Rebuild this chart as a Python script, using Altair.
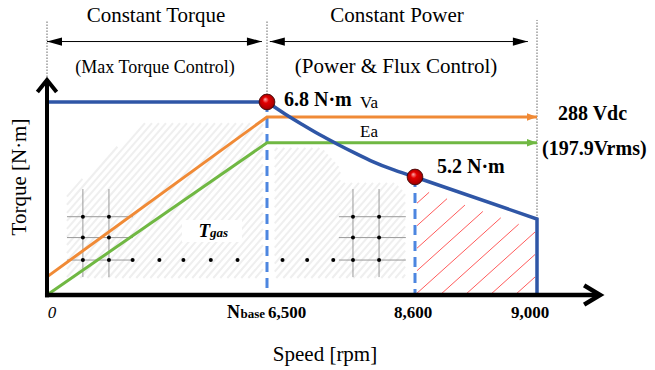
import altair as alt
import numpy as np
import pandas as pd

# ---------------- values ----------------
speed_ticks = [0, 6500, 8600, 9000]
torque_marks = [0, 5.2, 6.8]

flat_speed = [0, 6500]
flat_torque = [6.8, 6.8]
curve_speed = [6500, 6750, 7000, 7250, 7500, 7750, 8000, 8300, 8600]
curve_torque = [6.8, 6.55, 6.32, 6.10, 5.90, 5.71, 5.53, 5.35, 5.2]
tail_speed = [8600, 9000, 9000]
tail_torque = [5.2, 3.35, 0]

va_speed = [0, 6500, 9000]
va_level = [0.8, 6.48, 6.48]
ea_speed = [0, 6500, 9000]
ea_level = [0.0, 5.93, 5.93]

point_speed = [6500, 8600]
point_torque = [6.8, 5.2]
point_label = ["6.8 N·m", "5.2 N·m"]

grid_speed = [1060, 1830, 7720, 8090]
grid_torque = [3.45, 2.53, 1.54]
grid_span_torque = [0.79, 4.67]
grid_h_from = [590, 7520]
grid_h_to = [2540, 8470]
row_speed = [2530, 3320, 4030, 4840, 5630, 6720, 7070, 7440]

gray_left_speed = [590, 590, 2840, 6380, 6380]
gray_left_torque = [0.75, 4.49, 6.35, 6.35, 0.75]
gray_mid_speed = [6610, 6610, 7280, 7540, 7540]
gray_mid_torque = [0.75, 5.82, 5.82, 5.39, 0.75]
gray_right_speed = [7540, 7540, 8320, 8460, 8460]
gray_right_torque = [0.75, 4.94, 4.94, 4.49, 0.75]
red_speed = [8600, 8600, 9000, 9000]
red_torque = [0, 5.2, 3.35, 0]

tgas_box_speed = [3990, 5760]
tgas_box_torque = [2.34, 3.31]

guide_speed = [0, 6500, 9000]
guide_top = [8.55, 8.55, 8.55]
guide_bottom = [7.27, 6.95, 3.35]

region_start = [0, 6540]
region_end = [6350, 8970]
region_level = 8.09

axis_x_end = 9207
axis_y_end = 7.27

SERIF = "Liberation Serif"

# ---------------- scales (piecewise, schematic) ----------------
x_px = [47, 267, 415, 537]
y_px = [295, 177, 102]
xs = alt.Scale(domain=speed_ticks, range=x_px, nice=False, zero=False)
ys = alt.Scale(domain=torque_marks, range=y_px, nice=False, zero=False)


def X(f):
    return alt.X(f, type="quantitative", scale=xs, axis=None)


def Y(f):
    return alt.Y(f, type="quantitative", scale=ys, axis=None)


def to_px(s, t):
    return np.interp(s, speed_ticks, x_px), np.interp(t, torque_marks, y_px)


def to_data(px, py):
    return (np.interp(px, x_px, speed_ticks),
            np.interp(py, y_px[::-1], torque_marks[::-1]))


def hatch(P, slope, gap, phase_pt=(0.0, 0.0)):
    P = np.asarray(P, float)
    cen = P.mean(axis=0)
    cv = P[:, 1] + slope * P[:, 0]
    step = slope * gap
    phase = phase_pt[1] + slope * phase_pt[0]
    c = phase + np.floor((cv.min() - phase) / step) * step
    segs = []
    n = len(P)
    while c <= cv.max():
        lo, hi, ok = -np.inf, np.inf, True
        for i in range(n):
            a, b = P[i], P[(i + 1) % n]
            ex, ey = b - a
            s = np.sign(ex * (cen[1] - a[1]) - ey * (cen[0] - a[0]))
            A = -ex * slope - ey
            B = ex * (c - a[1]) + ey * a[0]
            sA, sB = s * A, s * B
            if abs(sA) < 1e-9:
                if sB < 0:
                    ok = False
                    break
            elif sA > 0:
                lo = max(lo, -sB / sA)
            else:
                hi = min(hi, -sB / sA)
        if ok and hi - lo > 0.8:
            segs.append((lo, c - slope * lo, hi, c - slope * hi))
        c += step
    seg = np.array(segs)
    s1, t1 = to_data(seg[:, 0], seg[:, 1])
    s2, t2 = to_data(seg[:, 2], seg[:, 3])
    return pd.DataFrame({"s1": s1, "t1": t1, "s2": s2, "t2": t2})


def poly_px(sp, tq):
    px, py = to_px(np.array(sp), np.array(tq))
    return np.column_stack([px, py])


gray_df = pd.concat([
    hatch(poly_px(gray_left_speed, gray_left_torque), 1.15, 7),
    hatch(poly_px(gray_mid_speed, gray_mid_torque), 1.15, 7),
    hatch(poly_px(gray_right_speed, gray_right_torque), 1.15, 7),
])
rp = poly_px(red_speed, red_torque)
rp[1, 1] += 11
rp[2, 1] += 11
rp[[0, 1], 0] += 2
rp[[2, 3], 0] -= 2
red_df = hatch(rp, 0.9, 25, phase_pt=(rp[0, 0] - 2, rp[0, 1]))

layers = []
layers.append(alt.Chart(gray_df).mark_rule(color="#efefef", strokeWidth=2).encode(
    x=X("s1"), y=Y("t1"), x2=alt.X2("s2"), y2=alt.Y2("t2")))
layers.append(alt.Chart(red_df).mark_rule(color="#ff5b5b", strokeWidth=1).encode(
    x=X("s1"), y=Y("t1"), x2=alt.X2("s2"), y2=alt.Y2("t2")))

# operating-point grids
gv = pd.DataFrame({"s": grid_speed, "t1": grid_span_torque[0], "t2": grid_span_torque[1]})
layers.append(alt.Chart(gv).mark_rule(color="#9a9a9a", strokeWidth=1).encode(
    x=X("s"), y=Y("t1"), y2=alt.Y2("t2")))
gh = pd.DataFrame([(a, b, t) for a, b in zip(grid_h_from, grid_h_to) for t in grid_torque],
                  columns=["s1", "s2", "t"])
layers.append(alt.Chart(gh).mark_rule(color="#9a9a9a", strokeWidth=1).encode(
    x=X("s1"), x2=alt.X2("s2"), y=Y("t")))
dots = pd.DataFrame([(s, t) for s in grid_speed for t in grid_torque] +
                    [(s, grid_torque[-1]) for s in row_speed], columns=["s", "t"])
layers.append(alt.Chart(dots).mark_circle(color="black", size=16, opacity=1).encode(
    x=X("s"), y=Y("t")))

# Tgas label box
tb = pd.DataFrame({"s1": [tgas_box_speed[0]], "s2": [tgas_box_speed[1]],
                   "t1": [tgas_box_torque[0]], "t2": [tgas_box_torque[1]],
                   "sc": [sum(tgas_box_speed) / 2], "tc": [sum(tgas_box_torque) / 2]})
layers.append(alt.Chart(tb).mark_rect(color="white").encode(
    x=X("s1"), x2=alt.X2("s2"), y=Y("t1"), y2=alt.Y2("t2")))
layers.append(alt.Chart(tb).mark_text(text="T", font=SERIF, fontSize=19, fontWeight="bold",
                                      fontStyle="italic", align="right", baseline="alphabetic",
                                      dx=-2, dy=6, color="black").encode(x=X("sc"), y=Y("tc")))
layers.append(alt.Chart(tb).mark_text(text="gas", font=SERIF, fontSize=13, fontWeight="bold",
                                      fontStyle="italic", align="left", baseline="alphabetic",
                                      dx=-2, dy=6, color="black").encode(x=X("sc"), y=Y("tc")))

# dotted guides
gd = pd.DataFrame({"s": guide_speed, "t1": guide_bottom, "t2": guide_top})
layers.append(alt.Chart(gd).mark_rule(color="#666666", strokeWidth=1, strokeDash=[1.5, 1.5]).encode(
    x=X("s"), y=Y("t1"), y2=alt.Y2("t2")))

# region arrows
ra = pd.DataFrame({"s1": region_start, "s2": region_end, "t": region_level})
layers.append(alt.Chart(ra).mark_rule(color="black", strokeWidth=1).encode(
    x=X("s1"), x2=alt.X2("s2"), y=Y("t")))
layers.append(alt.Chart(ra).mark_point(shape="M 0 0 L 2 -0.55 L 2 0.55 Z", size=225, filled=True,
                                       color="black", opacity=1).encode(x=X("s1"), y=Y("t")))
layers.append(alt.Chart(ra).mark_point(shape="M 0 0 L -2 -0.55 L -2 0.55 Z", size=225, filled=True,
                                       color="black", opacity=1).encode(x=X("s2"), y=Y("t")))

# dashed base-speed lines
dl = pd.DataFrame({"s": point_speed, "t": point_torque, "z": 0})
layers.append(alt.Chart(dl).mark_rule(color="#4d86e0", strokeWidth=3, strokeDash=[10, 6]).encode(
    x=X("s"), y=Y("t"), y2=alt.Y2("z")))

# voltage lines
for sp, lv, col in [(va_speed, va_level, "#f08a36"), (ea_speed, ea_level, "#70b843")]:
    d = pd.DataFrame({"s": sp, "t": lv, "i": range(len(sp))})
    layers.append(alt.Chart(d).mark_line(color=col, strokeWidth=3).encode(
        x=X("s"), y=Y("t"), order="i:Q"))
    layers.append(alt.Chart(d.tail(1)).mark_point(shape="M 0 0 L -2 -0.75 L -2 0.75 Z", size=100,
                                                  filled=True, color=col, opacity=1).encode(
        x=X("s"), y=Y("t")))

# torque envelope
BLUE = "#2f56a6"
lin = pd.DataFrame({"s": flat_speed + tail_speed, "t": flat_torque + tail_torque,
                    "g": ["a"] * len(flat_speed) + ["b"] * len(tail_speed),
                    "i": list(range(len(flat_speed) + len(tail_speed)))})
layers.append(alt.Chart(lin).mark_line(color=BLUE, strokeWidth=3.5).encode(
    x=X("s"), y=Y("t"), detail="g:N", order="i:Q"))
cv = pd.DataFrame({"s": curve_speed, "t": curve_torque})
layers.append(alt.Chart(cv).mark_line(color=BLUE, strokeWidth=3.5, interpolate="monotone").encode(
    x=X("s"), y=Y("t")))

# axes with chevron arrow heads
layers.append(alt.Chart(pd.DataFrame({"s1": [-60], "s2": [axis_x_end - 8], "t": [0]})).mark_rule(
    color="black", strokeWidth=4.5).encode(x=X("s1"), x2=alt.X2("s2"), y=Y("t")))
layers.append(alt.Chart(pd.DataFrame({"s": [0], "t1": [-0.1], "t2": [axis_y_end - 0.05]})).mark_rule(
    color="black", strokeWidth=4).encode(x=X("s"), y=Y("t1"), y2=alt.Y2("t2")))
layers.append(alt.Chart(pd.DataFrame({"s": [axis_x_end], "t": [0]})).mark_point(
    shape="M -1 -0.6 L 0 0 L -1 0.6", size=1024, filled=False, color="black", strokeWidth=4.5,
    opacity=1).encode(x=X("s"), y=Y("t")))
layers.append(alt.Chart(pd.DataFrame({"s": [0], "t": [axis_y_end]})).mark_point(
    shape="M -0.8 1 L 0 0 L 0.8 1", size=576, filled=False, color="black", strokeWidth=4,
    opacity=1).encode(x=X("s"), y=Y("t")))

# spheres
grad = {"gradient": "radial", "x1": 0.38, "y1": 0.32, "r1": 0.0, "x2": 0.5, "y2": 0.5, "r2": 0.55,
        "stops": [{"offset": 0, "color": "#ffb0b0"}, {"offset": 0.35, "color": "#e30000"},
                  {"offset": 0.8, "color": "#b00000"}, {"offset": 1, "color": "#5a0000"}]}
pts = pd.DataFrame({"s": point_speed, "t": point_torque, "label": point_label})
layers.append(alt.Chart(pts).mark_point(shape="circle", size=250, filled=True, fill=grad,
                                        stroke="#3a0000", strokeWidth=0.8, opacity=1).encode(
    x=X("s"), y=Y("t")))

# value labels
bold = dict(font=SERIF, fontWeight="bold", color="black", baseline="alphabetic")
layers.append(alt.Chart(pts.head(1)).mark_text(align="left", dx=17, dy=4, fontSize=20, **bold).encode(
    x=X("s"), y=Y("t"), text="label:N"))
layers.append(alt.Chart(pts.tail(1)).mark_text(align="left", dx=22, dy=-4, fontSize=20, **bold).encode(
    x=X("s"), y=Y("t"), text="label:N"))

vlab = pd.DataFrame({"s": [6500], "va": [va_level[1]], "ea": [ea_level[1]],
                     "end": [9000]})
reg = dict(font=SERIF, color="black", baseline="alphabetic", fontSize=17, align="left")
layers.append(alt.Chart(vlab).mark_text(text="Va", dx=93, dy=-9, **reg).encode(x=X("s"), y=Y("va")))
layers.append(alt.Chart(vlab).mark_text(text="Ea", dx=93, dy=-6, **reg).encode(x=X("s"), y=Y("ea")))
layers.append(alt.Chart(vlab).mark_text(text="288 Vdc", align="left", dx=21, dy=3, fontSize=20,
                                        **bold).encode(x=X("end"), y=Y("va")))
layers.append(alt.Chart(vlab).mark_text(text="(197.9Vrms)", align="left", dx=5, dy=12, fontSize=20,
                                        **bold).encode(x=X("end"), y=Y("ea")))

# tick labels
tk = pd.DataFrame({"s": speed_ticks, "t": 0, "lab": ["0", "6,500", "8,600", "9,000"]})
layers.append(alt.Chart(tk.iloc[[0]]).mark_text(font=SERIF, fontStyle="italic", fontSize=17,
                                                color="black", baseline="alphabetic", dx=5, dy=23).encode(
    x=X("s"), y=Y("t"), text="lab:N"))
layers.append(alt.Chart(tk.iloc[[1]]).mark_text(align="left", dx=1, dy=23, fontSize=17, **bold).encode(
    x=X("s"), y=Y("t"), text="lab:N"))
layers.append(alt.Chart(tk.iloc[[2]]).mark_text(align="center", dx=-2, dy=23, fontSize=17, **bold).encode(
    x=X("s"), y=Y("t"), text="lab:N"))
layers.append(alt.Chart(tk.iloc[[3]]).mark_text(align="center", dx=-7, dy=23, fontSize=17, **bold).encode(
    x=X("s"), y=Y("t"), text="lab:N"))
layers.append(alt.Chart(tk.iloc[[1]]).mark_text(text="N", align="right", dx=-27, dy=23, fontSize=18,
                                                **bold).encode(x=X("s"), y=Y("t")))
layers.append(alt.Chart(tk.iloc[[1]]).mark_text(text="base", align="right", dx=-2, dy=23, fontSize=13,
                                                **bold).encode(x=X("s"), y=Y("t")))

# headers and axis titles
one = pd.DataFrame({"k": [0]})
ser = dict(font=SERIF, color="black", baseline="alphabetic", align="center")
for text, xp, yp, fs in [("Constant Torque", 156, 22, 21), ("Constant Power", 397, 22, 21),
                         ("(Max Torque Control)", 155, 73, 18),
                         ("(Power & Flux Control)", 396, 73, 21),
                         ("Speed [rpm]", 325, 361, 21)]:
    layers.append(alt.Chart(one).mark_text(text=text, fontSize=fs, **ser).encode(
        x=alt.value(xp), y=alt.value(yp)))
layers.append(alt.Chart(one).mark_text(text="Torque [N·m]", fontSize=21, angle=270, **ser).encode(
    x=alt.value(26), y=alt.value(177)))

chart = alt.layer(*layers).properties(
    width=655, height=370, autosize=alt.AutoSizeParams(type="none"), padding=0,
    background="white").configure_view(strokeWidth=0)

chart.save("out.html", embed_options={"renderer": "svg", "actions": False})
